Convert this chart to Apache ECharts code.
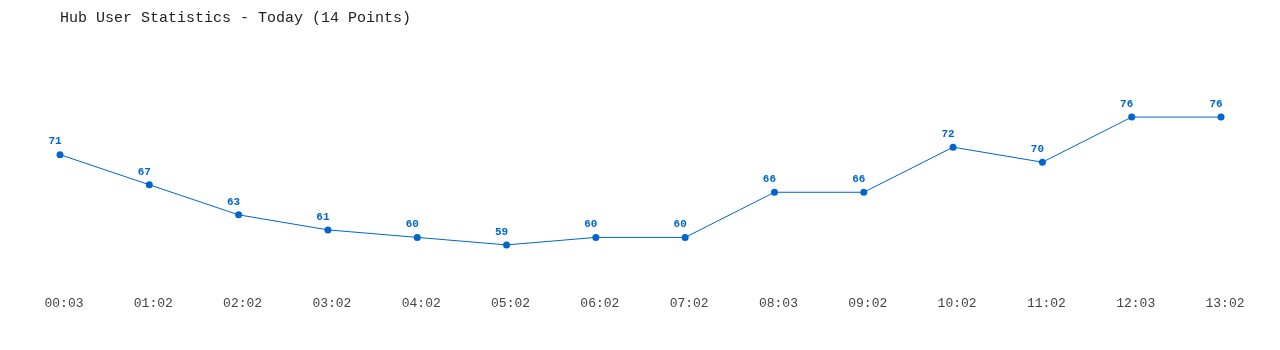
<!DOCTYPE html>
<html><head><meta charset="utf-8">
<script src="https://cdn.jsdelivr.net/npm/echarts@6/dist/echarts.min.js"></script>
<style>html,body{margin:0;padding:0;background:#fff}#c{width:1280px;height:350px}</style>
</head><body><div id="c"></div>
<script>
const titleText = 'Hub User Statistics - Today (14 Points)';
const categories = ['00:03','01:02','02:02','03:02','04:02','05:02','06:02','07:02','08:03','09:02','10:02','11:02','12:03','13:02'];
const users = [71,67,63,61,60,59,60,60,66,66,72,70,76,76];
const chart = echarts.init(document.getElementById('c'), null, {renderer:'canvas'});
chart.setOption({
  animation:false,
  backgroundColor:'#fff',
  title:{text:titleText,left:55,top:6,textStyle:{fontFamily:'Liberation Mono',fontSize:15,fontWeight:'normal',color:'#222'}},
  grid:{left:60,right:59,top:87,bottom:75},
  xAxis:{type:'category',data:categories,boundaryGap:false,
    axisLine:{show:false},axisTick:{show:false},splitLine:{show:false},
    axisLabel:{margin:22,padding:[0,0,0,8],fontFamily:'Liberation Mono',fontSize:13,color:'#444'}},
  yAxis:{type:'value',min:55,max:80,show:false,splitLine:{show:false}},
  series:[{type:'line',data:users,color:'#0066cc',
    lineStyle:{width:1,color:'#0066cc'},
    symbol:'circle',symbolSize:7,itemStyle:{color:'#0066cc'},
    label:{show:true,position:'top',distance:4,offset:[-5,0],color:'#0066cc',fontFamily:'Liberation Mono',fontWeight:'bold',fontSize:11}}]
});
</script></body></html>
